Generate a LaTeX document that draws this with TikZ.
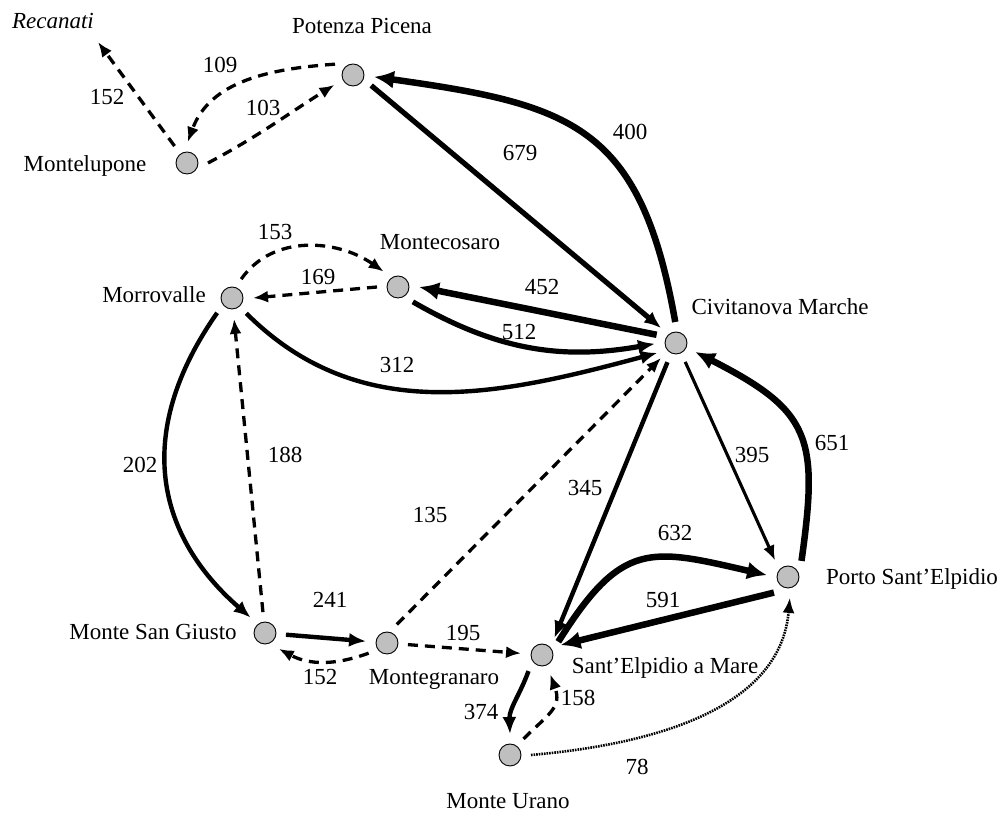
\documentclass[tikz,border=0pt]{standalone}
\usepackage{fontspec}
\setmainfont{Liberation Serif}
\usetikzlibrary{arrows.meta}
\begin{document}
\begin{tikzpicture}[x=1pt,y=1pt,
  stn/.style={circle,draw,line width=0.9pt,fill=gray!50,minimum size=22pt,inner sep=0pt,outer sep=10pt},
  lbl/.style={font=\fontsize{23}{27}\selectfont,inner sep=0pt,anchor=base},
  vthick/.style={line width=6.5pt,-{Latex[length=20pt,width=18pt]}},
  thk/.style={line width=4.4pt,-{Latex[length=17pt,width=14pt]}},
  med/.style={line width=3.1pt,-{Latex[length=15pt,width=12pt]}},
  dsh/.style={line width=3.3pt,dash pattern=on 10pt off 7pt,-{Latex[length=15pt,width=12pt]}},
  dtt/.style={line width=2.6pt,dash pattern=on 1.6pt off 1pt,-{Latex[length=15pt,width=12pt]}}
]
\useasboundingbox (0,0) rectangle (1005,816);

% stations
\node[stn] (PP)  at (353,741) {};
\node[stn] (ML)  at (187,653) {};
\node[stn] (CM)  at (676,473) {};
\node[stn] (PSE) at (788,239) {};
\node[stn] (SEM) at (542,161) {};
\node[stn] (MU)  at (510,61) {};
\node[stn] (MG)  at (387,173) {};
\node[stn] (MSG) at (265,183) {};
\node[stn] (MV)  at (232,518) {};
\node[stn] (MC)  at (398,529) {};
\coordinate (Rec) at (98,774);

% station names
\node[lbl] (tRec) at (53,787) {\itshape Recanati};
\node[lbl] (tPP)  at (362,782) {Potenza Picena};
\node[lbl] (tML)  at (85,644) {Montelupone};
\node[lbl] (tMC)  at (440,566) {Montecosaro};
\node[lbl] (tMV)  at (154,513) {Morrovalle};
\node[lbl] (tCM)  at (780,501) {Civitanova Marche};
\node[lbl] (tMSG) at (153,176) {Monte San Giusto};
\node[lbl] (tMG)  at (434,131) {Montegranaro};
\node[lbl] (tSEM) at (665,142) {Sant’Elpidio a Mare};
\node[lbl] (tMU)  at (508,7) {Monte Urano};
\node[lbl] (tPSE) at (912,231) {Porto Sant’Elpidio};

% connectors
\draw[dsh] (ML) -- (Rec);
\draw[dsh] (PP.149) to[out=184,in=70] (ML.88);
\draw[dsh] (ML.0) to[out=28,in=212] (PP.208);
\draw[vthick] (CM.92) to[out=100,in=-8,out distance=200pt,in distance=200pt] (PP.-5);
\draw[thk,line width=5.2pt] (PP.-30) -- (CM.135);
\draw[vthick] (CM.157) -- (MC.0);
\draw[thk,line width=5.2pt] (MC.-45) to[out=-30,in=190] (CM.182);
\draw[thk] (MV.-47) to[out=-45,in=195] (CM.208);
\draw[dsh] (MV.64) to[out=55,in=145] (MC.133);
\draw[dsh] (MC.180) -- (MV.0);
\draw[thk] (MV.-135) to[out=-125,in=139,out distance=150pt,in distance=122pt] (MSG.133);
\draw[dsh] (MSG) -- (MV);
\draw[thk] (MSG) -- (MG);
\draw[dsh] (MG.-151) to[out=200,in=-28] (MSG.-49);
\draw[dsh] (MG.62) -- (CM.-135);
\draw[dsh] (MG) -- (SEM);
\draw[thk] (CM.-114) -- (SEM.54);
\draw[med] (CM.-64) -- (PSE.128);
\draw[vthick] (PSE.50) to[out=82,in=-27,out distance=125pt,in distance=130pt] (CM.-25);
\draw[vthick] (SEM.39) to[out=58,in=167,out distance=120pt,in distance=120pt] (PSE.175);
\draw[vthick] (PSE.-132) -- (SEM.28);
\draw[thk] (SEM.-130) to[out=-110,in=92] (MU.90);
\draw[dsh] (MU.50) to[out=45,in=-70,looseness=1.3] (SEM.-67);
\draw[dtt] (MU.0) to[out=5,in=-95,out distance=150pt,in distance=100pt] (PSE.-85);

% flow numbers
\node[lbl] (n1)  at (107,711) {152};
\node[lbl] (n2)  at (220,743) {109};
\node[lbl] (n3)  at (263,700) {103};
\node[lbl] (n4)  at (520,655) {679};
\node[lbl] (n5)  at (630,676) {400};
\node[lbl] (n6)  at (542,521) {452};
\node[lbl] (n7)  at (519,476) {512};
\node[lbl] (n8)  at (397,443) {312};
\node[lbl] (n9)  at (275,576) {153};
\node[lbl] (n10) at (318,531) {169};
\node[lbl] (n11) at (140,343) {202};
\node[lbl] (n12) at (285,353) {188};
\node[lbl] (n13) at (330,208) {241};
\node[lbl] (n14) at (320,131) {152};
\node[lbl] (n15) at (463,175) {195};
\node[lbl] (n16) at (430,293) {135};
\node[lbl] (n17) at (585,320) {345};
\node[lbl] (n18) at (752,353) {395};
\node[lbl] (n19) at (832,365) {651};
\node[lbl] (n20) at (675,275) {632};
\node[lbl] (n21) at (663,208) {591};
\node[lbl] (n22) at (481,96) {374};
\node[lbl] (n23) at (578,110) {158};
\node[lbl] (n24) at (637,41) {78};
\end{tikzpicture}
\end{document}
